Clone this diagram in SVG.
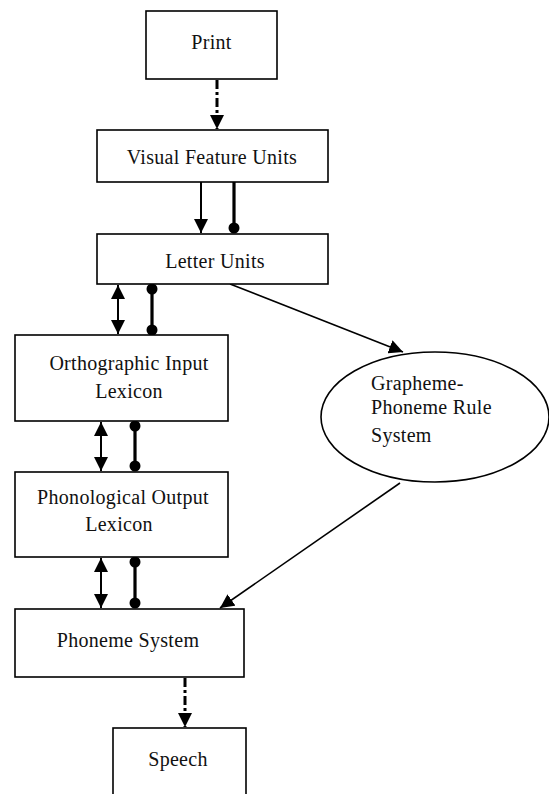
<svg xmlns="http://www.w3.org/2000/svg" width="549" height="794" viewBox="0 0 549 794">
<style>
.box{fill:#fff;stroke:#000;stroke-width:1.6}
.t{font-family:"Liberation Serif","Times New Roman",serif;font-size:20px;fill:#111;letter-spacing:0.3px}
.c{text-anchor:middle}
.ln{stroke:#000;stroke-width:2;fill:none}
.bl{stroke:#000;stroke-width:3.2;fill:none}
.dd{stroke:#000;stroke-width:3;fill:none;stroke-dasharray:9 3 3 3}
</style>
<defs>
<marker id="tri" markerUnits="userSpaceOnUse" markerWidth="14" markerHeight="14" refX="12" refY="6" orient="auto-start-reverse" viewBox="0 0 12 12">
<path d="M0,0 L12,6 L0,12 Z" fill="#000"/>
</marker>
<marker id="ball" markerUnits="userSpaceOnUse" markerWidth="12" markerHeight="12" refX="6" refY="6" viewBox="0 0 12 12">
<circle cx="6" cy="6" r="5.5" fill="#000"/>
</marker>
</defs>
<rect width="549" height="794" fill="#fff"/>
<g id="connectors">
<line class="dd" x1="217" y1="80" x2="217" y2="129" marker-end="url(#tri)"/>
<line class="ln" x1="201" y1="182" x2="201" y2="233" marker-end="url(#tri)"/>
<line class="bl" x1="234" y1="182" x2="234" y2="228" marker-end="url(#ball)"/>
<line class="ln" x1="118" y1="285" x2="118" y2="334" marker-start="url(#tri)" marker-end="url(#tri)"/>
<line class="bl" x1="152" y1="289" x2="152" y2="330" marker-start="url(#ball)" marker-end="url(#ball)"/>
<line class="ln" x1="101" y1="422" x2="101" y2="471" marker-start="url(#tri)" marker-end="url(#tri)"/>
<line class="bl" x1="135" y1="426" x2="135" y2="466" marker-start="url(#ball)" marker-end="url(#ball)"/>
<line class="ln" x1="101" y1="558" x2="101" y2="608" marker-start="url(#tri)" marker-end="url(#tri)"/>
<line class="bl" x1="135" y1="562" x2="135" y2="603" marker-start="url(#ball)" marker-end="url(#ball)"/>
<line class="ln" x1="230" y1="284" x2="403" y2="352" style="stroke-width:1.6" marker-end="url(#tri)"/>
<line class="ln" x1="400" y1="483" x2="220" y2="608" style="stroke-width:1.6" marker-end="url(#tri)"/>
<line class="dd" x1="185" y1="678" x2="185" y2="727" marker-end="url(#tri)"/>
</g>
<g id="print">
<rect class="box" x="146" y="11" width="131" height="68"/>
<text class="t c" x="211.5" y="49">Print</text>
</g>
<g id="visual">
<rect class="box" x="97" y="130" width="231" height="52"/>
<text class="t c" x="212" y="164">Visual Feature Units</text>
</g>
<g id="letter">
<rect class="box" x="97" y="234" width="231" height="50"/>
<text class="t c" x="215" y="268">Letter Units</text>
</g>
<g id="orthographic">
<rect class="box" x="15" y="335" width="213" height="86"/>
<text class="t c" x="129" y="370">Orthographic Input</text>
<text class="t c" x="129" y="398">Lexicon</text>
</g>
<g id="phonological">
<rect class="box" x="15" y="472" width="213" height="85"/>
<text class="t c" x="123" y="504">Phonological Output</text>
<text class="t c" x="119" y="531">Lexicon</text>
</g>
<g id="gpc">
<ellipse class="box" cx="435" cy="417" rx="114" ry="65"/>
<text class="t" x="371" y="390">Grapheme-</text>
<text class="t" x="371" y="414">Phoneme Rule</text>
<text class="t" x="371" y="442">System</text>
</g>
<g id="phoneme">
<rect class="box" x="15" y="609" width="229" height="68"/>
<text class="t c" x="128" y="647">Phoneme System</text>
</g>
<g id="speech">
<rect class="box" x="113" y="728" width="133" height="80"/>
<text class="t c" x="178" y="766">Speech</text>
</g>
</svg>
